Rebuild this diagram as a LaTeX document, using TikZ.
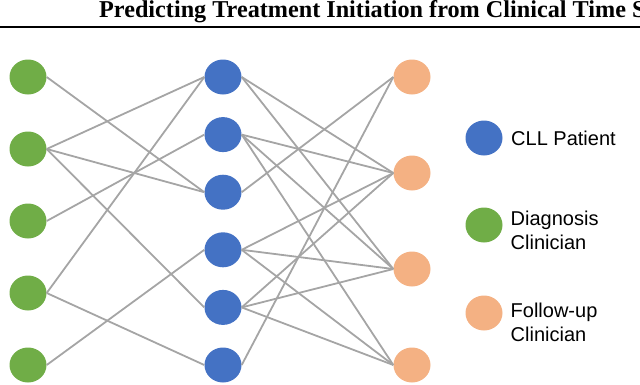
\documentclass[tikz,border=0pt]{standalone}
\usepackage{fontspec}
\usetikzlibrary{shapes}
\newfontfamily\legendfont{Liberation Sans}
\newfontfamily\titlefont{Liberation Serif}
\definecolor{patientblue}{HTML}{4472C4}
\definecolor{diaggreen}{HTML}{70AD47}
\definecolor{followorange}{HTML}{F4B183}
\definecolor{linkgray}{HTML}{A5A5A5}

\begin{document}
\begin{tikzpicture}[x=1pt, y=-1pt]
				\tikzstyle{person} = [ellipse, inner sep=0pt, minimum width=37pt, minimum height=35pt]
				\tikzstyle{patient} = [person, fill=patientblue]
				\tikzstyle{diagnosis} = [person, fill=diaggreen]
				\tikzstyle{followup} = [person, fill=followorange]
				\tikzstyle{line} = [draw=linkgray, line width=1.8pt]
				\tikzstyle{legendtext} = [anchor=west, align=left, inner sep=0pt, font=\legendfont\fontsize{20}{24.5}\selectfont]
				
				\useasboundingbox (0,0) rectangle (640,384);
				
				\node [anchor=base west, inner sep=0pt, font=\titlefont\bfseries\fontsize{24.2}{28}\selectfont] (title) at (99,17.3) {Predicting Treatment Initiation from Clinical Time S};
				\draw [line width=2.5pt] (0,27.2) -- (640,27.2);
				
				\node [diagnosis] (diag1) at (28,77) {};
				\node [diagnosis] (diag2) at (28,149) {};
				\node [diagnosis] (diag3) at (28,221) {};
				\node [diagnosis] (diag4) at (28,293) {};
				\node [diagnosis] (diag5) at (28,365) {};
				
				\node [patient] (pat1) at (223,77) {};
				\node [patient] (pat2) at (223,134.6) {};
				\node [patient] (pat3) at (223,192.2) {};
				\node [patient] (pat4) at (223,249.8) {};
				\node [patient] (pat5) at (223,307.4) {};
				\node [patient] (pat6) at (223,365) {};
				
				\node [followup] (follow1) at (412,77) {};
				\node [followup] (follow2) at (412,173) {};
				\node [followup] (follow3) at (412,269) {};
				\node [followup] (follow4) at (412,365) {};
				
				\path [line] (diag1.east) -- (pat3.west);
				\path [line] (diag2.east) -- (pat1.west);
				\path [line] (diag2.east) -- (pat3.west);
				\path [line] (diag2.east) -- (pat5.west);
				\path [line] (diag3.east) -- (pat2.west);
				\path [line] (diag4.east) -- (pat1.west);
				\path [line] (diag4.east) -- (pat6.west);
				\path [line] (diag5.east) -- (pat4.west);
				
				\path [line] (pat1.east) -- (follow2.west);
				\path [line] (pat1.east) -- (follow3.west);
				\path [line] (pat2.east) -- (follow2.west);
				\path [line] (pat2.east) -- (follow3.west);
				\path [line] (pat2.east) -- (follow4.west);
				\path [line] (pat3.east) -- (follow1.west);
				\path [line] (pat4.east) -- (follow2.west);
				\path [line] (pat4.east) -- (follow3.west);
				\path [line] (pat4.east) -- (follow4.west);
				\path [line] (pat5.east) -- (follow2.west);
				\path [line] (pat5.east) -- (follow3.west);
				\path [line] (pat5.east) -- (follow4.west);
				\path [line] (pat6.east) -- (follow1.west);
				
				% legend
				\node [patient] (keypat) at (484,138) {};
				\node [diagnosis] (keydiag) at (484,225) {};
				\node [followup] (keyfollow) at (484,313) {};
				\node [legendtext] (keypattext) at (511,138.8) {CLL Patient};
				\node [legendtext] (keydiagtext) at (510.5,230.1) {Diagnosis\\Clinician};
				\node [legendtext] (keyfollowtext) at (510.5,322.4) {Follow-up\\Clinician};
				
			\end{tikzpicture}
\end{document}
